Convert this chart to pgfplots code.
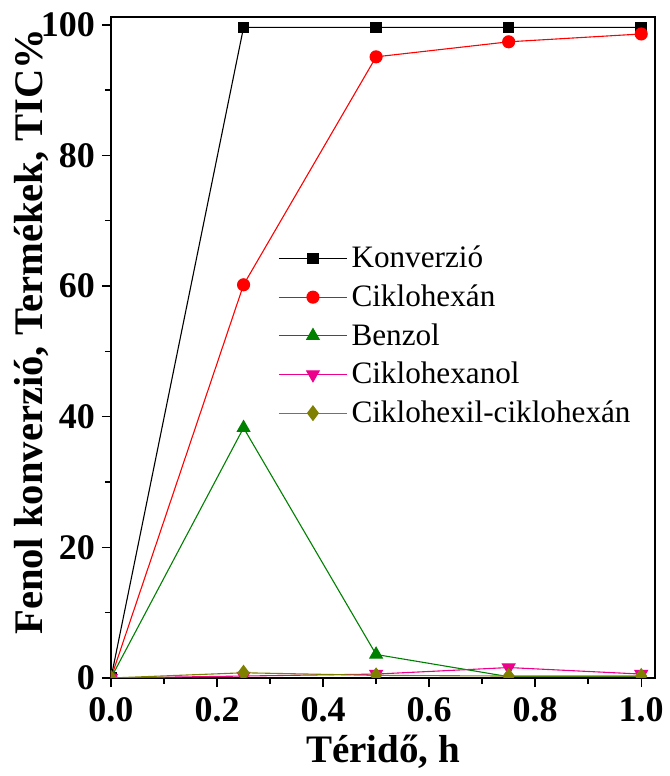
\documentclass[border=0pt]{standalone}
\usepackage{pgfplots}
\pgfplotsset{compat=1.18}
\usepackage{fontspec}
\setmainfont{Liberation Serif}
\definecolor{olivec}{HTML}{808000}
\definecolor{greenc}{HTML}{008000}
\begin{document}
\begin{tikzpicture}
\begin{axis}[
  name=ax,
  scale only axis,
  width=272pt, height=330.5pt,
  xmin=0, xmax=1.026, ymin=0, ymax=101.2,
  clip marker paths=true,
  axis line style={line width=1pt},
  xtick={0,0.2,...,1.0},
  minor xtick={0.1,0.3,0.5,0.7,0.9},
  ytick={0,20,40,60,80,100},
  minor ytick={10,30,50,70,90},
  xtick pos=bottom, ytick pos=left,
  tick align=outside,
  major tick length=4.5pt, minor tick length=3pt,
  every tick/.style={line width=0.7pt, black},
  /pgf/number format/assume math mode=true,
  xticklabel style={yshift=-1.5pt, /pgf/number format/fixed, /pgf/number format/fixed zerofill, /pgf/number format/precision=1},
  yticklabel style={/pgf/number format/fixed, /pgf/number format/precision=0},
  tick label style={font=\fontsize{18}{18}\selectfont\bfseries},
  xlabel={Téridő, h},
  ylabel={Fenol konverzió, Termékek, TIC\%},
  xlabel style={font=\fontsize{19.5}{20}\selectfont\bfseries},
  ylabel style={font=\fontsize{20.3}{21}\selectfont\bfseries, at={(axis description cs:-0.1452,0.524)}, anchor=center},
  legend style={draw=none, fill=none, at={(0.307,0.66)}, anchor=north west,
    font=\fontsize{15.6}{15.6}\selectfont, row sep=3pt, inner sep=0pt,
    /tikz/every even column/.append style={column sep=5pt}},
  legend cell align=left,
  legend image code/.code={\draw[mark repeat=2,mark phase=2,#1] plot coordinates {(0pt,0pt)(17pt,0pt)(34pt,0pt)};},
  every axis plot/.append style={line width=0.55pt},
]
\addplot[black, mark=square*, mark size=2.6pt, mark options={solid}] coordinates {(0,0) (0.25,99.6) (0.5,99.6) (0.75,99.6) (1,99.6)};
\addlegendentry{Konverzió}
\addplot[red, mark=*, mark size=3pt] coordinates {(0,0) (0.25,60.2) (0.5,95.1) (0.75,97.4) (1,98.6)};
\addlegendentry{Ciklohexán}
\addplot[greenc, mark=triangle*, mark size=3.6pt] coordinates {(0,0) (0.25,38.3) (0.5,3.6) (0.75,0.2) (1,0.2)};
\addlegendentry{Benzol}
\addplot[magenta, mark=triangle*, mark size=3.6pt, mark options={rotate=180}] coordinates {(0,0) (0.25,0.3) (0.5,0.6) (0.75,1.6) (1,0.6)};
\addlegendentry{Ciklohexanol}
\addplot[olivec, mark=diamond*, mark size=3.6pt] coordinates {(0,0) (0.25,0.8) (0.5,0.4) (0.75,0.3) (1,0.3)};
\addlegendentry{Ciklohexil-ciklohexán}
\end{axis}
\pgfresetboundingbox
\path[use as bounding box] ([xshift=-55.5pt,yshift=-49pt]ax.south west) rectangle ([xshift=7pt,yshift=8.5pt]ax.north east);
\end{tikzpicture}
\end{document}
